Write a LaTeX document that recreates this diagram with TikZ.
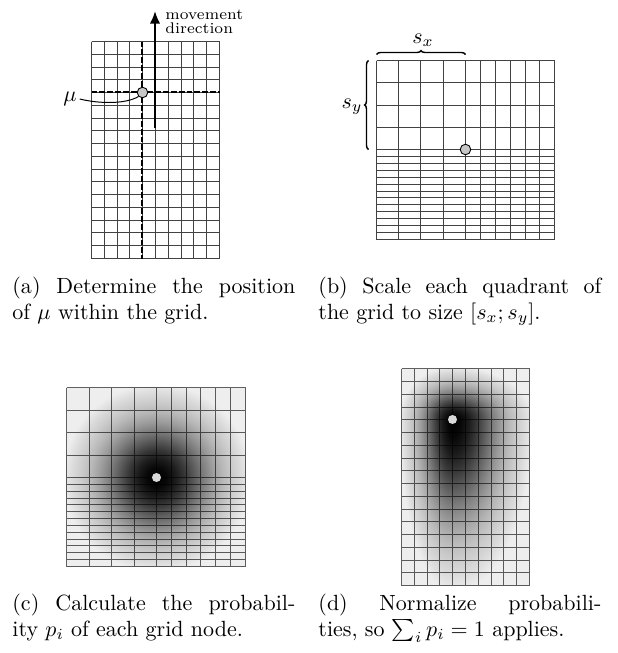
\documentclass[tikz,border=0pt]{standalone}
\usetikzlibrary{arrows.meta,decorations.pathreplacing}
\definecolor{sg0}{gray}{0}
\definecolor{sg1}{gray}{0.027}
\definecolor{sg2}{gray}{0.106}
\definecolor{sg3}{gray}{0.22}
\definecolor{sg4}{gray}{0.357}
\definecolor{sg5}{gray}{0.494}
\definecolor{sg6}{gray}{0.616}
\definecolor{sg7}{gray}{0.718}
\definecolor{sg8}{gray}{0.796}
\definecolor{sg9}{gray}{0.86}
\definecolor{sg10}{gray}{0.933}
\pgfdeclareradialshading{gauss}{\pgfpointorigin}{color(0bp)=(sg0);color(2.5bp)=(sg1);color(5bp)=(sg2);color(7.5bp)=(sg3);color(10bp)=(sg4);color(12.5bp)=(sg5);color(15bp)=(sg6);color(17.5bp)=(sg7);color(20bp)=(sg8);color(22.5bp)=(sg9);color(25bp)=(sg10);color(50bp)=(sg10)}
\begin{document}
\begin{tikzpicture}[x=0.4545pt,y=-0.4545pt,
 gla/.style={draw=black!74, line width=0.72pt},
 glc/.style={draw=black, draw opacity=0.62, line width=0.75pt},
 dotab/.style={circle, draw=black, line width=0.4pt, fill=black!22, inner sep=0pt, minimum size=4.8pt},
 dotcd/.style={circle, fill=black!15, inner sep=0pt, minimum size=4.1pt},
 captxt/.style={anchor=north west, inner sep=0pt, text width=128.6pt, align=justify, font=\fontsize{10}{11.4}\selectfont},
 mvt/.style={anchor=base west, inner sep=0pt, font=\fontsize{7}{7}\selectfont},
 brc/.style={decorate, decoration={brace, amplitude=1.8pt}, line width=0.65pt},
 dsh/.style={draw=black, line width=0.909pt, dash pattern=on 2.7pt off 0.9pt}]
\useasboundingbox (0,0) rectangle (618,653);

% ---------- panel (a)
\draw[gla] \foreach \i in {0,...,10} {({round(91+12.8*\i)+0.5},41.5) -- ({round(91+12.8*\i)+0.5},258.5)}
           \foreach \j in {0,...,17} {(91.5,{round(41+12.765*\j)+0.5}) -- (219.5,{round(41+12.765*\j)+0.5})};
\draw[dsh] (142,41.5) -- (142,258.5);
\draw[dsh] (91.5,92) -- (219.5,92);
\coordinate (arrS) at (155,128);
\coordinate (arrE) at (155,11);
\draw[line width=0.909pt,-{Latex[length=5.7pt,width=4.7pt]}] (arrS) -- (arrE);
\node[mvt] (mv1) at (165,19.3) {movement};
\node[mvt] (mv2) at (165,33.5) {direction};
\node[dotab] (dotA) at (142.5,92.5) {};
\node[inner sep=1.2pt] (mu) at (70,99) {$\mu$};
\draw[line width=0.45pt] (mu.east) .. controls (100,104) and (126,104) .. (dotA.south west);

% ---------- panel (b)
\draw[gla] \foreach \i in {0,...,4} {({round(375.7+22.4*\i)+0.5},60.5) -- ({round(375.7+22.4*\i)+0.5},239.5)}
           \foreach \i in {1,...,6} {({round(465.3+14.833*\i)+0.5},60.5) -- ({round(465.3+14.833*\i)+0.5},239.5)}
           \foreach \j in {0,...,4} {(376.5,{round(60+22.325*\j)+0.5}) -- (554.5,{round(60+22.325*\j)+0.5})}
           \foreach \j in {1,...,13} {(376.5,{round(149.3+6.877*\j)+0.5}) -- (554.5,{round(149.3+6.877*\j)+0.5})};
\node[dotab] (dotB) at (465.5,149.5) {};
\coordinate (bx0) at (376.5,54.5);
\coordinate (bx1) at (465.5,54.5);
\draw[brc] (bx0) -- (bx1);
\coordinate (by0) at (368.5,149.5);
\coordinate (by1) at (368.5,60.5);
\draw[brc] (by0) -- (by1);
\node (sx) at (423,40) {$s_x$};
\node (sy) at (352,107) {$s_y$};

% ---------- panel (c)
\begin{scope}
\clip (66.5,387.5) rectangle (245.5,566.5);
\fill[sg10] (66.5,387.5) rectangle (245.5,566.5);
\shade[shading=gauss] (156.5,477.5) circle[radius=42.7pt];
\end{scope}
\draw[glc] \foreach \i in {0,...,4} {({round(66+22.5*\i)+0.5},387.5) -- ({round(66+22.5*\i)+0.5},566.5)}
           \foreach \i in {1,...,6} {({round(156+14.833*\i)+0.5},387.5) -- ({round(156+14.833*\i)+0.5},566.5)}
           \foreach \j in {0,...,4} {(66.5,{round(387+22.5*\j)+0.5}) -- (245.5,{round(387+22.5*\j)+0.5})}
           \foreach \j in {1,...,13} {(66.5,{round(477+6.846*\j)+0.5}) -- (245.5,{round(477+6.846*\j)+0.5})};
\node[dotcd] (dotC) at (156.5,477.5) {};

% ---------- panel (d)
\fill[sg10] (401.5,368.5) rectangle (529.5,585.5);
\begin{scope}
\clip (401.5,368.5) rectangle (452.5,419.5);
\shade[shading=gauss] (452.5,419.5) ellipse[x radius=24.3pt, y radius=24.3pt];
\end{scope}
\begin{scope}
\clip (452.5,368.5) rectangle (529.5,419.5);
\shade[shading=gauss] (452.5,419.5) ellipse[x radius=36.4pt, y radius=24.3pt];
\end{scope}
\begin{scope}
\clip (401.5,419.5) rectangle (452.5,585.5);
\shade[shading=gauss] (452.5,419.5) ellipse[x radius=24.3pt, y radius=78.6pt];
\end{scope}
\begin{scope}
\clip (452.5,419.5) rectangle (529.5,585.5);
\shade[shading=gauss] (452.5,419.5) ellipse[x radius=36.4pt, y radius=78.6pt];
\end{scope}
\draw[glc] \foreach \i in {0,...,10} {({round(401+12.8*\i)+0.5},368.5) -- ({round(401+12.8*\i)+0.5},585.5)}
           \foreach \j in {0,...,17} {(401.5,{round(368.3+12.747*\j)+0.5}) -- (529.5,{round(368.3+12.747*\j)+0.5})};
\node[dotcd] (dotD) at (452.5,419.5) {};

% ---------- captions
\node[captxt] (capa) at (12,277) {(a) Determine the position\linebreak of $\mu$ within the grid.};
\node[captxt] (capb) at (318,277) {(b) Scale each quadrant of\linebreak the grid to size $[s_x; s_y]$.};
\node[captxt] (capc) at (12,594) {(c) Calculate the probabil-\linebreak ity $p_i$ of each grid node.};
\node[captxt] (capd) at (318,594) {(d) Normalize probabili-\linebreak ties, so $\sum_i p_i = 1$ applies.};
\end{tikzpicture}
\end{document}
